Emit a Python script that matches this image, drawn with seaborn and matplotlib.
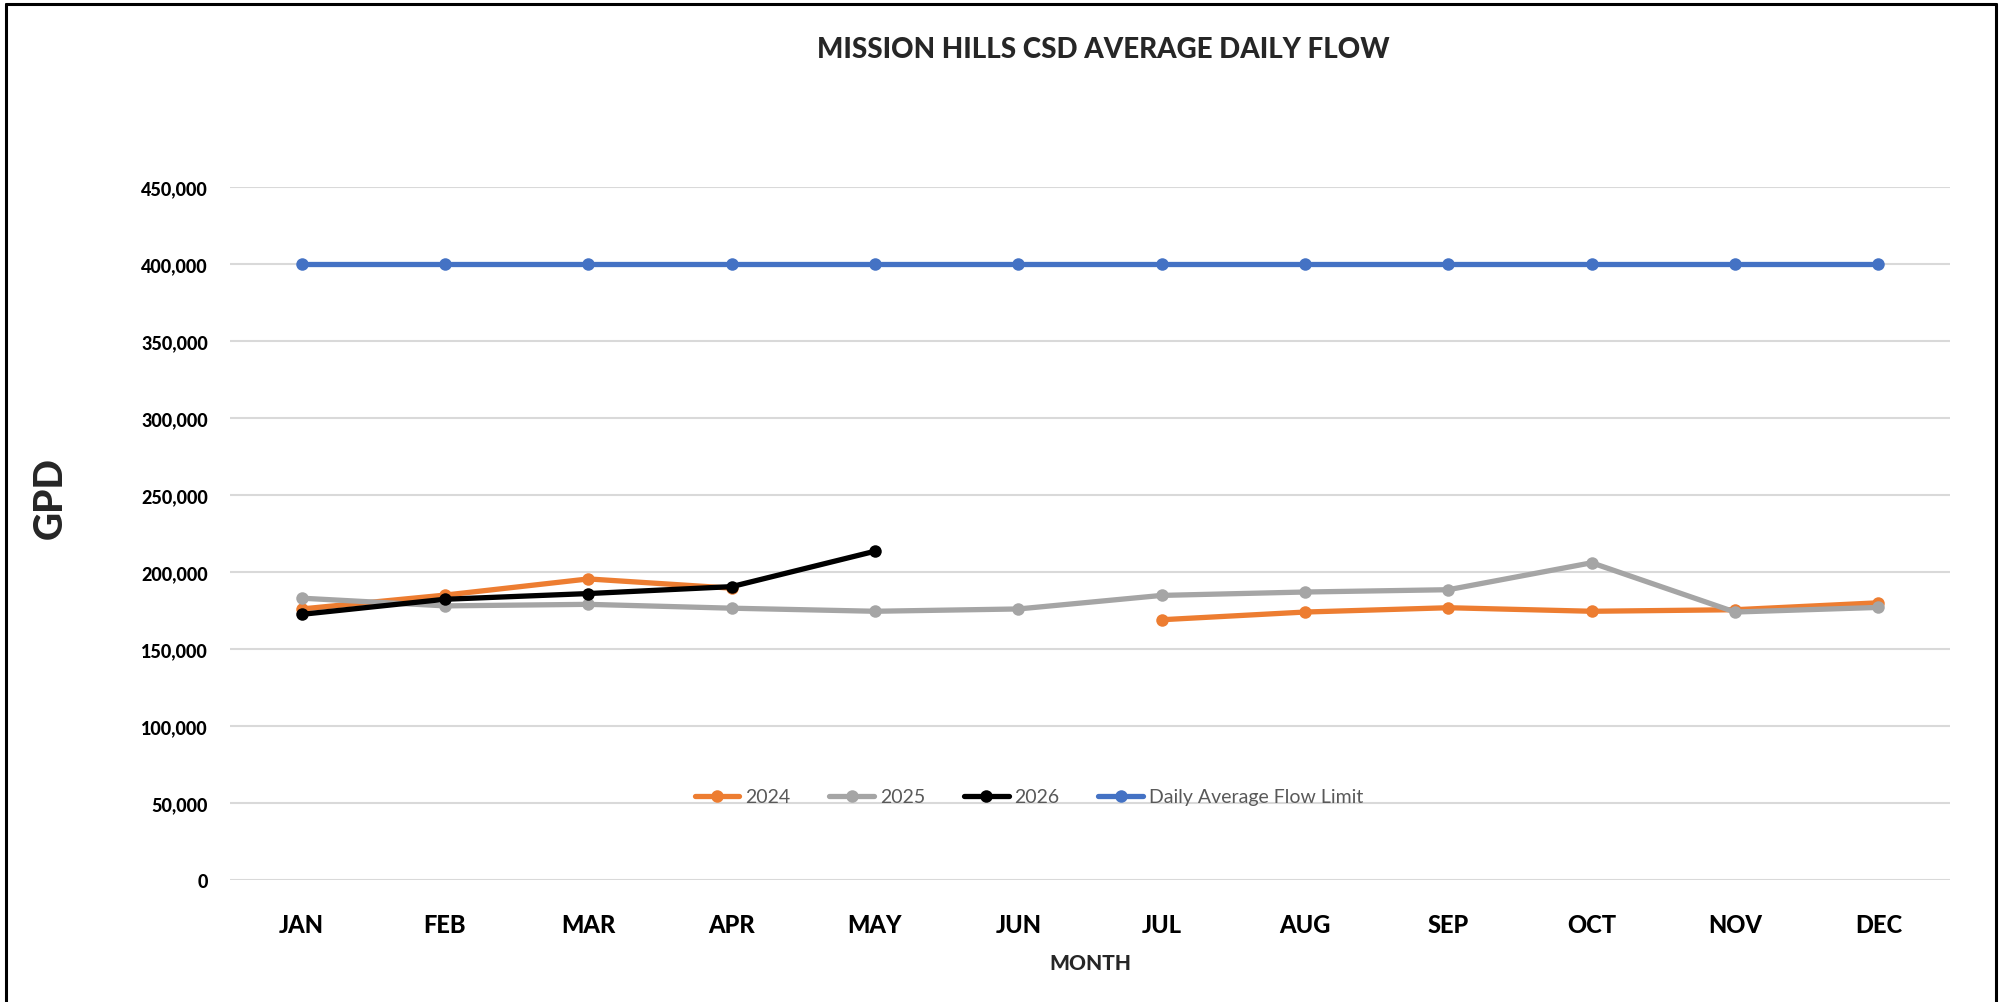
import numpy as np
import pandas as pd
import matplotlib
matplotlib.use("Agg")
import matplotlib.pyplot as plt
from matplotlib.lines import Line2D
import seaborn as sns

months = ["JAN", "FEB", "MAR", "APR", "MAY", "JUN", "JUL", "AUG", "SEP", "OCT", "NOV", "DEC"]
flow_2024 = [176000, 185000, 195500, 189500, np.nan, np.nan, 169000, 174000, 176800, 174500, 175500, 180000]
flow_2025 = [183000, 178000, 179000, 176500, 174500, 176000, 184800, 187000, 188500, 206000, 174000, 177000]
flow_2026 = [172500, 182300, 186000, 190500, 213500, np.nan, np.nan, np.nan, np.nan, np.nan, np.nan, np.nan]
flow_limit = [400000] * 12
series_names = ["2024", "2025", "2026", "Daily Average Flow Limit"]
yticks = [0, 50000, 100000, 150000, 200000, 250000, 300000, 350000, 400000, 450000]

colors = ["#ED7D31", "#A5A5A5", "#000000", "#4472C4"]

sns.set_theme(style="white")
plt.rcParams["font.family"] = ["Lato", "DejaVu Sans"]
BW = 900

fig = plt.figure(figsize=(20.03, 10.03), dpi=100)
ax = fig.add_axes([230 / 2003, 1 - 881 / 1003, (1950 - 230) / 2003, (881 - 188) / 1003])

x_idx = np.arange(len(months))
all_series = [flow_2024, flow_2025, flow_2026, flow_limit]
for name, vals, col in zip(series_names, all_series, colors):
    v = np.array(vals, dtype=float)
    valid = ~np.isnan(v)
    seg_ids = np.cumsum(~valid)
    for sid in np.unique(seg_ids[valid]):
        m = valid & (seg_ids == sid)
        df = pd.DataFrame({"x": x_idx[m], "y": v[m]})
        sns.lineplot(data=df, x="x", y="y", ax=ax, color=col, linewidth=3.8,
                     marker="o", markersize=9, markeredgewidth=0, legend=False)

ax.set_xlim(-0.5, 11.5)
ax.set_ylim(0, 450000)
ax.set_yticks(yticks)
ax.set_yticklabels([f"{t:,}" for t in yticks], fontsize=13, fontweight=BW, color="#000000")
ax.set_xticks(x_idx)
ax.set_xticklabels(months, fontsize=17, fontweight=BW, color="#000000")
ax.tick_params(axis="y", length=0, pad=16)
ax.tick_params(axis="x", length=0, pad=24)
ax.grid(axis="y", color="#D9D9D9", linewidth=1.5)
ax.grid(axis="x", visible=False)
for s in ax.spines.values():
    s.set_visible(False)

ax.set_xlabel("MONTH", fontsize=15, fontweight=BW, labelpad=12)
ax.set_ylabel("")
fig.text(50 / 2003, 1 - 498 / 1003, "GPD", rotation=90, fontsize=28, fontweight=BW,
         ha="center", va="center")
fig.text(1103 / 2003, 1 - 50 / 1003, "MISSION HILLS CSD AVERAGE DAILY FLOW", fontsize=20,
         fontweight=BW, ha="center", va="center")

handles = [Line2D([0], [0], color=c, linewidth=3.8, marker="o", markersize=9,
                  markeredgewidth=0) for c in colors]
leg = ax.legend(handles, series_names, loc="center", bbox_to_anchor=(0.4645, 0.12),
                ncol=4, frameon=False, fontsize=14, handlelength=2.3, handletextpad=0.3,
                columnspacing=2.0)
for t in leg.get_texts():
    t.set_color("#595959")

fig.add_artist(Line2D([6 / 2003, 6 / 2003], [0, 1 - 5 / 1003], transform=fig.transFigure,
                      color="black", linewidth=2.2))
fig.add_artist(Line2D([6 / 2003, 1996 / 2003], [1 - 5 / 1003, 1 - 5 / 1003],
                      transform=fig.transFigure, color="black", linewidth=2.2))
fig.add_artist(Line2D([1996 / 2003, 1996 / 2003], [0, 1 - 5 / 1003], transform=fig.transFigure,
                      color="black", linewidth=2.2))

fig.savefig("out.png", dpi=100)
